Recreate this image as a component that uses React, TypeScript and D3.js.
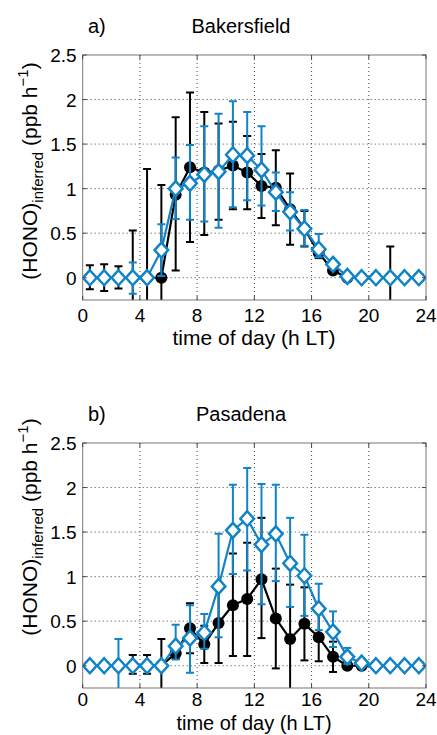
import React from "react";
import * as d3 from "d3";

// hourly bins (h LT)
const hours = [0.5, 1.5, 2.5, 3.5, 4.5, 5.5, 6.5, 7.5, 8.5, 9.5, 10.5, 11.5, 12.5, 13.5, 14.5, 15.5, 16.5, 17.5, 18.5, 19.5, 20.5, 21.5, 22.5, 23.5];
const xTicks = [0, 4, 8, 12, 16, 20, 24];
const yTicks = [0, 0.5, 1, 1.5, 2, 2.5];

// Bakersfield
const bakBlack = [0, 0, 0, 0, 0, 0, 0.93, 1.24, 1.18, 1.2, 1.26, 1.18, 1.03, 1.01, 0.77, 0.55, 0.28, 0.08, 0, 0, 0, 0, 0, 0];
const bakBlackHi = [0.14, 0.15, 0.13, 0.53, 1.22, 1.04, 1.8, 2.08, 1.86, 1.73, 1.75, 1.59, 1.39, 1.43, 1.17, 0.75, 0.36, 0.1, 0, 0, 0, 0.35, 0, 0];
const bakBlackLo = [-0.13, -0.15, -0.12, -0.53, -1.22, -1.04, 0.08, 0.4, 0.48, 0.65, 0.77, 0.77, 0.67, 0.59, 0.37, 0.35, 0.22, 0.06, 0, 0, 0, -0.35, 0, 0];
const bakBlue = [0, 0, 0, 0, 0, 0.31, 1.0, 1.06, 1.16, 1.19, 1.38, 1.37, 1.21, 0.96, 0.74, 0.55, 0.32, 0.15, 0.015, 0, 0, 0, 0, 0];
const bakBlueHi = [0, 0, 0, 0.17, 0, 0.6, 1.35, 1.49, 1.7, 1.84, 1.98, 1.86, 1.7, 1.18, 0.96, 0.76, 0.49, 0.15, 0.015, 0, 0, 0, 0, 0];
const bakBlueLo = [0, 0, 0, -0.18, 0, 0.02, 0.66, 0.65, 0.63, 0.56, 0.79, 0.87, 0.81, 0.75, 0.53, 0.36, 0.23, 0.15, 0.015, 0, 0, 0, 0, 0];

// Pasadena
const pasBlack = [0, 0, 0, 0, 0, 0, 0.14, 0.42, 0.24, 0.48, 0.68, 0.75, 0.97, 0.53, 0.3, 0.47, 0.32, 0.1, 0, 0, 0, 0, 0, 0];
const pasBlackHi = [0, 0, 0, 0.12, 0.12, 0.3, 0.2, 0.7, 0.45, 0.93, 1.26, 1.38, 1.66, 1.09, 0.91, 0.88, 0.6, 0.27, 0.02, 0, 0, 0, 0, 0];
const pasBlackLo = [0, 0, 0, -0.09, -0.09, -0.3, 0.08, 0.14, 0.03, 0.03, 0.11, 0.11, 0.31, -0.03, -0.31, 0.06, 0.05, -0.07, -0.02, 0, 0, 0, 0, 0];
const pasBlue = [0, 0, 0, 0, 0, 0, 0.22, 0.31, 0.37, 0.89, 1.52, 1.65, 1.36, 1.48, 1.15, 1.01, 0.64, 0.38, 0.1, 0.03, 0, 0, 0, 0];
const pasBlueHi = [0, 0, 0.3, 0, 0, 0, 0.46, 0.68, 0.58, 1.48, 2.03, 2.22, 2.04, 2.03, 1.66, 1.47, 0.92, 0.61, 0.2, 0.03, 0, 0, 0, 0];
const pasBlueLo = [0, 0, -0.3, 0, 0, 0, 0.07, -0.08, 0.19, 0.32, 1.03, 1.07, 0.69, 0.95, 0.66, 0.56, 0.4, 0.21, 0.02, 0.03, 0, 0, 0, 0];

const BLUE = "#1184c8";
const FONT = "'Liberation Sans', Arial, Helvetica, sans-serif";

type Series = { mean: number[]; hi: number[]; lo: number[] };

function Panel({ id, top, letter, title, black, blue, labelY, tickDy, xLabelDy, xLabelSize }: {
  id: string; top: number; letter: string; title: string; black: Series; blue: Series;
  labelY: number; tickDy: number; xLabelDy: number; xLabelSize: number;
}) {
  const left = 82.7, right = 426, h = 245;
  const x = d3.scaleLinear().domain([0, 24]).range([left, right]);
  const y = d3.scaleLinear().domain([-0.25, 2.5]).range([top + h, top]);
  const line = d3.line<number>().x((_, i) => x(hours[i])).y((v) => y(v));
  const diamond = (cx: number, cy: number) =>
    `M${cx},${cy - 7.5}L${cx + 6.8},${cy}L${cx},${cy + 7.5}L${cx - 6.8},${cy}Z`;

  const bars = (s: Series, color: string) =>
    hours.map((hr, i) =>
      s.hi[i] === s.lo[i] ? null : (
        <g key={i} stroke={color} strokeWidth={2}>
          <line x1={x(hr)} x2={x(hr)} y1={y(s.hi[i])} y2={y(s.lo[i])} />
          <line x1={x(hr) - 4} x2={x(hr) + 4} y1={y(s.hi[i])} y2={y(s.hi[i])} />
          <line x1={x(hr) - 4} x2={x(hr) + 4} y1={y(s.lo[i])} y2={y(s.lo[i])} />
        </g>
      )
    );

  return (
    <g fontFamily={FONT}>
      <defs>
        <clipPath id={id}>
          <rect x={left} y={top} width={right - left} height={h} />
        </clipPath>
      </defs>
      <text x={88} y={top - 22} fontSize={20}>{letter}</text>
      <text x={241} y={top - 22} fontSize={20} textAnchor="middle">{title}</text>
      {/* grid */}
      <g stroke="#444" strokeWidth={1} strokeDasharray="1,3">
        {xTicks.slice(1, -1).map((t) => (
          <line key={t} x1={x(t)} x2={x(t)} y1={top} y2={top + h} />
        ))}
        {yTicks.slice(0, -1).map((t) => (
          <line key={t} x1={left} x2={right} y1={y(t)} y2={y(t)} />
        ))}
      </g>
      <g clipPath={`url(#${id})`}>
        {bars(black, "#000")}
        <path d={line(black.mean) || ""} fill="none" stroke="#000" strokeWidth={2.2} />
        {hours.map((hr, i) => (
          <circle key={i} cx={x(hr)} cy={y(black.mean[i])} r={6} fill="#000" />
        ))}
        {bars(blue, BLUE)}
        <path d={line(blue.mean) || ""} fill="none" stroke={BLUE} strokeWidth={2.2} />
        {hours.map((hr, i) => (
          <path key={i} d={diamond(x(hr), y(blue.mean[i]))} fill="#fff" stroke={BLUE} strokeWidth={2.5} />
        ))}
      </g>
      <rect x={left} y={top} width={right - left} height={h} fill="none" stroke="#777" strokeWidth={1} />
      {/* ticks */}
      <g stroke="#444">
        {xTicks.map((t) => (
          <g key={t}>
            <line x1={x(t)} x2={x(t)} y1={top + h} y2={top + h - 4} />
            <line x1={x(t)} x2={x(t)} y1={top} y2={top + 4} />
          </g>
        ))}
        {yTicks.map((t) => (
          <g key={t}>
            <line x1={left} x2={left + 4} y1={y(t)} y2={y(t)} />
            <line x1={right} x2={right - 4} y1={y(t)} y2={y(t)} />
          </g>
        ))}
      </g>
      <g fontSize={19}>
        {xTicks.map((t) => (
          <text key={t} x={x(t)} y={top + h + tickDy} textAnchor="middle">{t}</text>
        ))}
        {yTicks.map((t) => (
          <text key={t} x={left - 6} y={y(t) + 7} textAnchor="end">{t}</text>
        ))}
      </g>
      <text x={254} y={top + h + xLabelDy} fontSize={xLabelSize} textAnchor="middle">time of day (h LT)</text>
      <text transform={`translate(37,${labelY}) rotate(-90)`} fontSize={21} textAnchor="middle">
        (HONO)<tspan fontSize={15} dy={6}>inferred</tspan>
        <tspan dy={-6}> (ppb h</tspan>
        <tspan fontSize={15} dy={-9}>−1</tspan>
        <tspan dy={9}>)</tspan>
      </text>
    </g>
  );
}

export default function App() {
  return (
    <svg width={437} height={735} style={{ position: "absolute", left: 0, top: 0, background: "#fff" }}>
      <Panel id="clipA" top={55} letter="a)" title="Bakersfield" labelY={171}
        tickDy={22} xLabelDy={45} xLabelSize={21}
        black={{ mean: bakBlack, hi: bakBlackHi, lo: bakBlackLo }}
        blue={{ mean: bakBlue, hi: bakBlueHi, lo: bakBlueLo }} />
      <Panel id="clipB" top={443} letter="b)" title="Pasadena" labelY={527}
        tickDy={18} xLabelDy={42} xLabelSize={20}
        black={{ mean: pasBlack, hi: pasBlackHi, lo: pasBlackLo }}
        blue={{ mean: pasBlue, hi: pasBlueHi, lo: pasBlueLo }} />
    </svg>
  );
}
